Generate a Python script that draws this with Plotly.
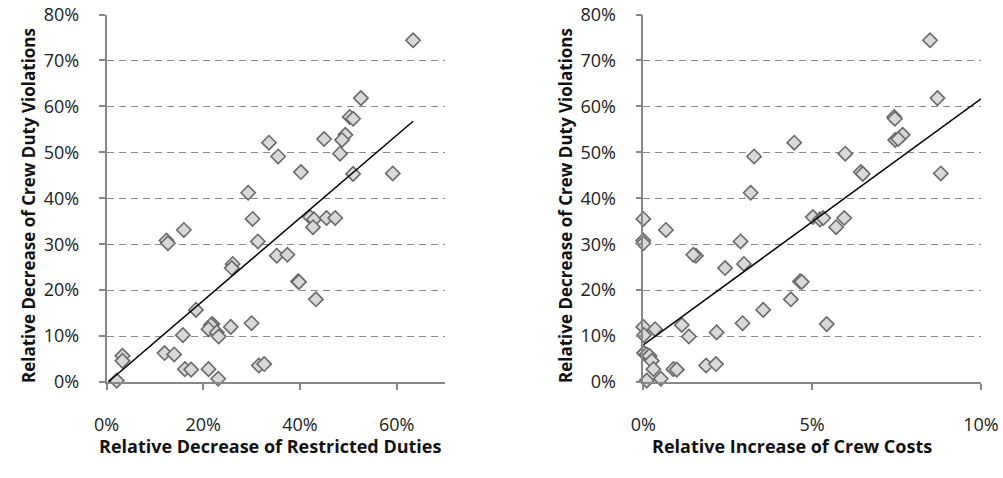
import numpy as np
import plotly.graph_objects as go

# Shared y values (relative decrease of crew duty violations, %)
violations_pct = [74.4, 61.8, 57.7, 57.3, 53.8, 52.7, 52.9, 52.1, 49.7, 49.1,
                  45.7, 45.3, 45.4, 41.2, 35.5, 35.9, 35.4, 33.7, 35.7, 35.7,
                  33.1, 30.8, 30.2, 30.6, 25.7, 24.8, 27.5, 27.7, 21.9, 21.8,
                  18.0, 15.7, 12.8, 12.6, 12.4, 12.0, 11.5, 10.8, 10.2, 9.9,
                  6.3, 6.0, 5.7, 4.6, 2.8, 2.7, 2.8, 0.7, 3.6, 3.9, 0.3]
# Left chart x values (relative decrease of restricted duties, %)
restricted_pct = [63.4, 52.6, 50.3, 51.0, 49.4, 48.7, 45.0, 33.6, 48.3, 35.5,
                  40.2, 51.0, 59.2, 29.3, 30.2, 42.1, 42.9, 42.7, 45.5, 47.3,
                  16.0, 12.4, 12.7, 31.3, 26.1, 25.9, 35.2, 37.4, 39.6, 39.8,
                  43.3, 18.5, 30.0, 21.9, 21.6, 25.7, 21.1, 22.8, 15.8, 23.2,
                  12.0, 14.0, 3.3, 3.3, 16.2, 17.5, 21.1, 23.1, 31.5, 32.6, 2.1]
# Right chart x values (relative increase of crew costs, %)
costs_pct = [8.49, 8.71, 7.43, 7.45, 7.68, 7.46, 7.55, 4.47, 5.98, 3.28,
             6.44, 6.50, 8.81, 3.18, 0.0, 5.02, 5.23, 5.71, 5.33, 5.95,
             0.67, 0.0, 0.0, 2.88, 2.98, 2.42, 1.56, 1.48, 4.64, 4.69,
             4.37, 3.55, 2.94, 5.43, 1.14, 0.0, 0.35, 2.17, 0.02, 1.35,
             0.02, 0.10, 0.18, 0.25, 0.89, 0.99, 0.30, 0.52, 1.86, 2.15, 0.10]

# Linear trend lines as shown in the chart (slope, intercept, x extent)
left_trend_slope, left_trend_intercept = 0.90, -0.003
left_trend_x = [0.004, 0.634]
right_trend_slope, right_trend_intercept = 5.36, 0.0806
right_trend_x = [0.0, 0.10]

y_ticks = [0, 0.1, 0.2, 0.3, 0.4, 0.5, 0.6, 0.7, 0.8]
left_x_ticks = [0, 0.2, 0.4, 0.6]
right_x_ticks = [0, 0.05, 0.10]

y = np.array(violations_pct) / 100
xl = np.array(restricted_pct) / 100
xr = np.array(costs_pct) / 100

FONT = "'Open Sans', Lato, sans-serif"
marker = dict(symbol="diamond", size=11, color="#d9d9d9",
              line=dict(color="#6a6a6a", width=1.6))

fig = go.Figure()
fig.add_trace(go.Scatter(x=xl, y=y, mode="markers", marker=marker,
                         xaxis="x", yaxis="y", cliponaxis=False, showlegend=False))
fig.add_trace(go.Scatter(x=xr, y=y, mode="markers", marker=marker,
                         xaxis="x2", yaxis="y2", cliponaxis=False, showlegend=False))

tl = np.array(left_trend_x)
fig.add_trace(go.Scatter(x=tl, y=left_trend_slope * tl + left_trend_intercept,
                         mode="lines", line=dict(color="black", width=1.5),
                         xaxis="x", yaxis="y", showlegend=False))
tr = np.array(right_trend_x)
fig.add_trace(go.Scatter(x=tr, y=right_trend_slope * tr + right_trend_intercept,
                         mode="lines", line=dict(color="black", width=1.5),
                         xaxis="x2", yaxis="y2", showlegend=False))

W, H = 1003, 478
ydom = [(H - 382) / H, (H - 14.5) / H]
axis_common = dict(showline=True, linecolor="#888888", linewidth=1.5,
                   ticks="outside", ticklen=6, tickcolor="#888888", tickwidth=1.5,
                   tickformat=".0%", zeroline=False, automargin=False,
                   tickfont=dict(family=FONT, size=18, color="#222222"))
yaxis_common = dict(axis_common, range=[0, 0.8], tickvals=y_ticks,
                    showgrid=True, gridcolor="#8a8a8a", gridwidth=1.4,
                    griddash="7px,5px", ticklabelstandoff=16, domain=ydom)

title_font = dict(family=FONT, size=18, color="#111111")
ytitle_font = dict(family=FONT, size=17, color="#111111")
fig.update_layout(
    width=W, height=H,
    margin=dict(l=0, r=0, t=0, b=0, autoexpand=False),
    paper_bgcolor="white", plot_bgcolor="white",
    xaxis=dict(axis_common, domain=[106.5 / W, 445 / W], range=[0, 0.7],
               tickvals=left_x_ticks, showgrid=False, anchor="y",
               ticklabelstandoff=20),
    yaxis=dict(yaxis_common, anchor="x"),
    xaxis2=dict(axis_common, domain=[643.3 / W, 981 / W], range=[0, 0.1],
                tickvals=right_x_ticks, showgrid=False, anchor="y2",
                ticklabelstandoff=20),
    yaxis2=dict(yaxis_common, anchor="x2"),
    annotations=[
        dict(text="<b>Relative Decrease of Crew Duty Violations</b>", textangle=-90,
             x=29 / W, y=(H - 206) / H, xref="paper", yref="paper",
             xanchor="center", yanchor="middle", showarrow=False, font=ytitle_font),
        dict(text="<b>Relative Decrease of Crew Duty Violations</b>", textangle=-90,
             x=566 / W, y=(H - 206) / H, xref="paper", yref="paper",
             xanchor="center", yanchor="middle", showarrow=False, font=ytitle_font),
        dict(text="<b>Relative Decrease of Restricted Duties</b>",
             x=270 / W, y=(H - 446) / H, xref="paper", yref="paper",
             xanchor="center", yanchor="middle", showarrow=False, font=title_font),
        dict(text="<b>Relative Increase of Crew Costs</b>",
             x=792 / W, y=(H - 446) / H, xref="paper", yref="paper",
             xanchor="center", yanchor="middle", showarrow=False, font=title_font),
    ],
)

fig.write_html("out.html")
